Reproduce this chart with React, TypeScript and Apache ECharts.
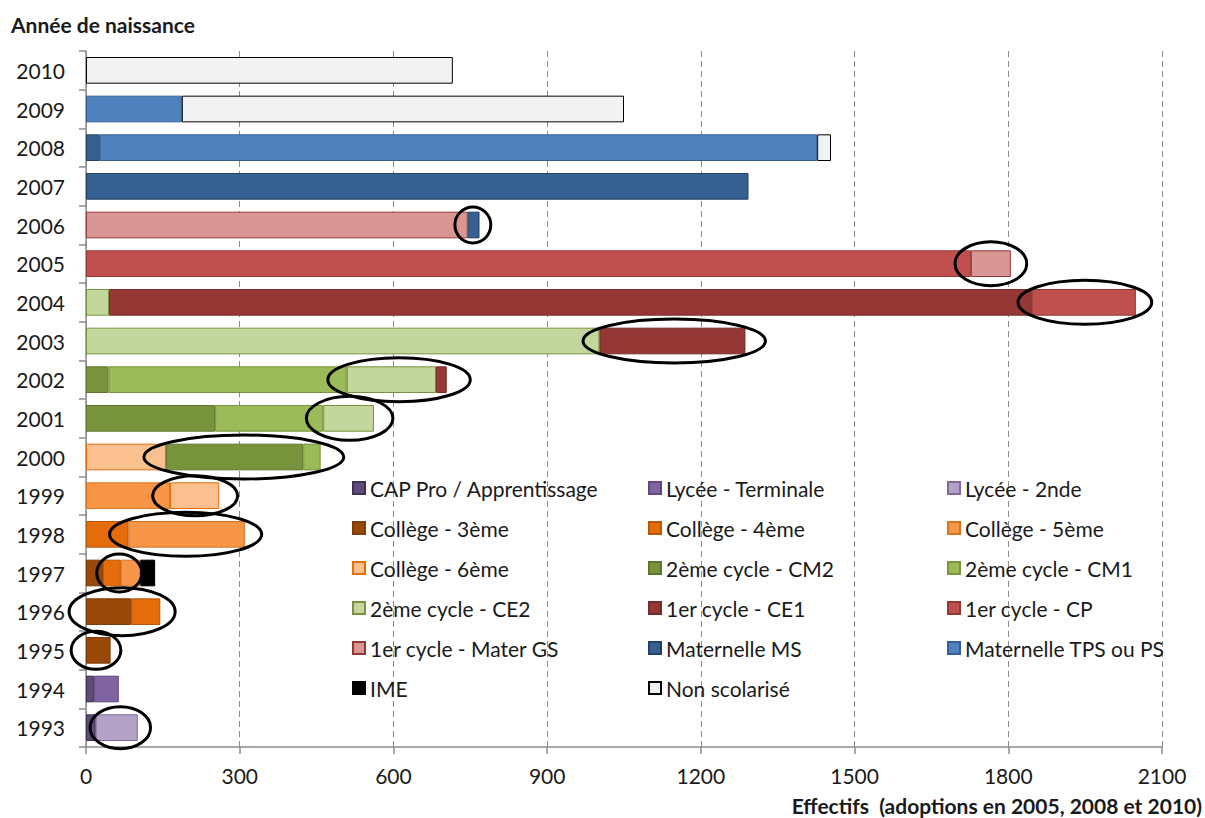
import React, { useEffect, useRef } from "react";
import * as echarts from "echarts";

// Birth years (bottom to top)
const years = ["1993","1994","1995","1996","1997","1998","1999","2000","2001","2002","2003","2004","2005","2006","2007","2008","2009","2010"];

// Series values, indexed like `years` (null = no segment)
const capPro = [19,16,null,null,null,null,null,null,null,null,null,null,null,null,null,null,null,null];
const lyceeTerm = [null,48,null,null,null,null,null,null,null,null,null,null,null,null,null,null,null,null];
const lycee2nde = [82,null,null,null,null,null,null,null,null,null,null,null,null,null,null,null,null,null];
const college3 = [null,null,48,88,33,null,null,null,null,null,null,null,null,null,null,null,null,null];
const college4 = [null,null,null,57,35,83,null,null,null,null,null,null,null,null,null,null,null,null];
const college5 = [null,null,null,null,38,227,164,null,null,null,null,null,null,null,null,null,null,null];
const college6 = [null,null,null,null,null,null,96,156,null,null,null,null,null,null,null,null,null,null];
const cm2 = [null,null,null,null,null,null,null,268,252,44,null,null,null,null,null,null,null,null];
const cm1 = [null,null,null,null,null,null,null,34,211,465,null,null,null,null,null,null,null,null];
const ce2 = [null,null,null,null,null,null,null,null,99,174,1002,45,null,null,null,null,null,null];
const ce1 = [null,null,null,null,null,null,null,null,null,21,285,1801,null,null,null,null,null,null];
const cp = [null,null,null,null,null,null,null,null,null,null,null,203,1727,null,null,null,null,null];
const materGS = [null,null,null,null,null,null,null,null,null,null,null,null,78,745,null,null,null,null];
const materMS = [null,null,null,null,null,null,null,null,null,null,null,null,null,23,1293,27,null,null];
const materTPS = [null,null,null,null,null,null,null,null,null,null,null,null,null,null,null,1400,187,null];
const ime = [null,null,null,null,29,null,null,null,null,null,null,null,null,null,null,null,null,null];
const nonScol = [null,null,null,null,null,null,null,null,null,null,null,null,null,null,null,27,863,716];

// X axis ticks
const xMin = 0;
const xMax = 2100;
const xStep = 300;

// Highlight ellipses (data space): year, value from, value to
const ellipseYears = ["2006","2005","2004","2003","2002","2001","2000","1999","1998","1997","1996","1995","1993"];
const ellipseFrom = [720,1696,1819,970,472,430,113,130,46,21,-33,-29,8];
const ellipseTo = [790,1836,2080,1326,750,599,503,296,343,109,174,68,126];

const FONT = "Lato, 'Open Sans', sans-serif";
const FS = 21;

const seriesDefs = [
  { name: "CAP Pro / Apprentissage", data: capPro, color: "#604A7B", border: "#3F3151" },
  { name: "Lycée - Terminale", data: lyceeTerm, color: "#8064A2", border: "#5F497A" },
  { name: "Lycée - 2nde", data: lycee2nde, color: "#B3A2C7", border: "#7F6A9F" },
  { name: "Collège - 3ème", data: college3, color: "#984807", border: "#7F3C06" },
  { name: "Collège - 4ème", data: college4, color: "#E46C0A", border: "#B65708" },
  { name: "Collège - 5ème", data: college5, color: "#F79646", border: "#D9731F" },
  { name: "Collège - 6ème", data: college6, color: "#FAC090", border: "#E46C0A" },
  { name: "2ème cycle - CM2", data: cm2, color: "#77933C", border: "#5F752F" },
  { name: "2ème cycle - CM1", data: cm1, color: "#9BBB59", border: "#77933C" },
  { name: "2ème cycle - CE2", data: ce2, color: "#C3D69B", border: "#77933C" },
  { name: "1er cycle - CE1", data: ce1, color: "#953735", border: "#772C2A" },
  { name: "1er cycle - CP", data: cp, color: "#C0504D", border: "#953735" },
  { name: "1er cycle - Mater GS", data: materGS, color: "#D99694", border: "#953735" },
  { name: "Maternelle MS", data: materMS, color: "#376092", border: "#254061" },
  { name: "Maternelle TPS ou PS", data: materTPS, color: "#4F81BD", border: "#376092" },
  { name: "IME", data: ime, color: "#000000", border: "#000000" },
  { name: "Non scolarisé", data: nonScol, color: "#F2F2F2", border: "#000000" },
];

const legendCol = (names: string[], left: number) => ({
  data: names,
  orient: "vertical" as const,
  left,
  top: 477,
  padding: 0,
  itemGap: 18,
  itemWidth: 12,
  itemHeight: 12,
  icon: "rect",
  selectedMode: false,
  textStyle: { fontFamily: FONT, fontSize: FS, lineHeight: 22, color: "#1a1a1a", padding: [0, 0, 0, 0] },
});

export default function App() {
  const ref = useRef<HTMLDivElement>(null);
  useEffect(() => {
    if (!ref.current) return;
    const chart = echarts.init(ref.current, null, { renderer: "svg" });
    const names = seriesDefs.map((s) => s.name);
    const col1 = names.filter((_, i) => i % 3 === 0);
    const col2 = names.filter((_, i) => i % 3 === 1);
    const col3 = names.filter((_, i) => i % 3 === 2);
    chart.setOption({
      animation: false,
      backgroundColor: "#ffffff",
      title: {
        text: "Année de naissance",
        left: 11,
        top: 14,
        padding: 0,
        textStyle: { fontFamily: FONT, fontSize: FS, fontWeight: "bold", color: "#1a1a1a" },
      },
      grid: { left: 86, right: 43, top: 51, bottom: 71, containLabel: false },
      legend: [legendCol(col1, 352), legendCol(col2, 648), legendCol(col3, 947)],
      xAxis: {
        type: "value",
        min: xMin,
        max: xMax,
        interval: xStep,
        axisLine: { show: true, lineStyle: { color: "#8c8c8c", width: 1.5 } },
        axisTick: { show: true, length: 7, lineStyle: { color: "#8c8c8c", width: 1.5 } },
        axisLabel: { margin: 18, fontFamily: FONT, fontSize: FS, color: "#1a1a1a", formatter: (v: number) => String(v) },
        splitLine: { show: true, lineStyle: { color: "#8c8c8c", type: [6, 4], width: 1 } },
      },
      yAxis: {
        type: "category",
        data: years,
        axisLine: { show: true, lineStyle: { color: "#8c8c8c", width: 1.5 } },
        axisTick: { show: true, length: 7, lineStyle: { color: "#8c8c8c", width: 1.5 } },
        axisLabel: { margin: 21, fontFamily: FONT, fontSize: FS, color: "#1a1a1a" },
        splitLine: { show: false },
      },
      series: seriesDefs.map((s) => ({
        type: "bar",
        name: s.name,
        stack: "total",
        data: s.data,
        barCategoryGap: "31%",
        itemStyle: { color: s.color, borderColor: s.border, borderWidth: 1 },
      })),
    });
    const ryFor: Record<string, number> = { "2006": 18, "1999": 20, "1997": 19, "1996": 24, "1995": 19, "1993": 21 };
    const ellipses = ellipseYears.map((y, i) => {
      const idx = years.indexOf(y);
      const p1 = chart.convertToPixel({ gridIndex: 0 }, [ellipseFrom[i], idx]) as number[];
      const p2 = chart.convertToPixel({ gridIndex: 0 }, [ellipseTo[i], idx]) as number[];
      return {
        type: "ellipse",
        shape: { cx: (p1[0] + p2[0]) / 2, cy: p1[1], rx: (p2[0] - p1[0]) / 2, ry: ryFor[y] ?? 22 },
        style: { fill: "none", stroke: "#000000", lineWidth: 3 },
        z: 100,
      };
    });
    chart.setOption({
      graphic: [
        ...ellipses,
        {
          type: "text",
          right: 3,
          bottom: 2,
          style: {
            text: "Effectifs  (adoptions en 2005, 2008 et 2010)",
            fontFamily: FONT,
            fontSize: FS,
            fontWeight: "bold",
            fill: "#1a1a1a",
          },
          z: 100,
        },
      ],
    });
    return () => chart.dispose();
  }, []);
  return <div ref={ref} style={{ position: "fixed", left: 0, top: 0, width: 1205, height: 818 }} />;
}
